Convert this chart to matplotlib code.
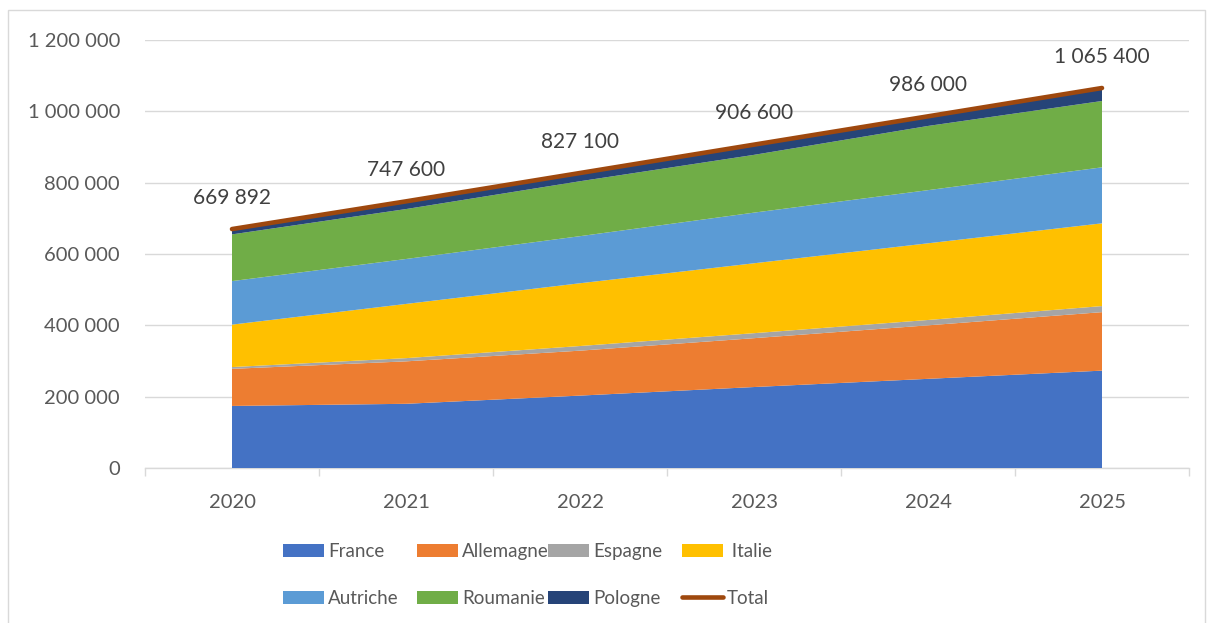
import matplotlib
matplotlib.use("Agg")
import matplotlib.pyplot as plt
from matplotlib.patches import Patch, Rectangle
from matplotlib.lines import Line2D

plt.rcParams['font.family'] = ['Lato', 'DejaVu Sans']

years = ["2020", "2021", "2022", "2023", "2024", "2025"]
france = [174000, 180000, 203000, 227000, 250000, 273000]
allemagne = [104000, 119000, 126000, 137000, 150000, 164000]
espagne = [5000, 9000, 13000, 14000, 15000, 17000]
italie = [119000, 152000, 176000, 196000, 215000, 232000]
autriche = [122000, 126000, 132000, 142000, 149000, 157000]
roumanie = [131000, 140000, 154000, 162000, 180000, 186000]
pologne = [14892, 21600, 23100, 28600, 27000, 36400]
total = [669892, 747600, 827100, 906600, 986000, 1065400]

names = ["France", "Allemagne", "Espagne", "Italie", "Autriche", "Roumanie", "Pologne"]
colors = ["#4472C4", "#ED7D31", "#A5A5A5", "#FFC000", "#5B9BD5", "#70AD47", "#264478"]
total_color = "#9E480E"
yticks = [0, 200000, 400000, 600000, 800000, 1000000, 1200000]

W, H = 1208, 623
fig = plt.figure(figsize=(W / 100, H / 100), dpi=100)
ax = fig.add_axes([145 / W, 1 - 468 / H, (1189 - 145) / W, 428 / H])

x = list(range(len(years)))
series = [france, allemagne, espagne, italie, autriche, roumanie, pologne]
ax.stackplot(x, *series, colors=colors, linewidth=0, zorder=2)
ax.plot(x, total, color=total_color, lw=3.3, solid_capstyle='round', zorder=3)

def fmt(v):
    return f"{v:,}".replace(",", " ")

for xi, v in zip(x, total):
    ax.annotate(fmt(v), (xi, v), xytext=(0, 22.5), textcoords='offset points',
                ha='center', va='center', fontsize=15, color='#404040')

ax.set_xlim(-0.5, len(years) - 0.5)
ax.set_ylim(0, 1200000)
ax.set_yticks(yticks)
ax.set_yticklabels([fmt(v) for v in yticks])
ax.set_xticks(x)
ax.set_xticklabels(years)
ax.set_xticks([i - 0.5 for i in range(len(years) + 1)], minor=True)
ax.tick_params(axis='x', which='major', length=0, pad=18.5, labelsize=14.5, labelcolor='#595959')
ax.tick_params(axis='x', which='minor', length=6, width=1, color='#D9D9D9')
ax.tick_params(axis='y', length=0, pad=18, labelsize=14.5, labelcolor='#595959')
ax.grid(axis='y', color='#D9D9D9', lw=1, zorder=0)
ax.set_axisbelow(True)
for s in ['top', 'right', 'left']:
    ax.spines[s].set_visible(False)
ax.spines['bottom'].set_color('#D9D9D9')
ax.spines['bottom'].set_linewidth(1)
ax.spines['bottom'].set_zorder(1)

# legend: 4 columns, 2 rows (row-wise order as in reference)
handles = [Patch(facecolor=c, edgecolor='none') for c in colors]
handles.append(Line2D([0], [0], color=total_color, lw=3.3, solid_capstyle='round'))
labels = ["France", "Allemagne", "Espagne", " Italie", "Autriche", "Roumanie", "Pologne", "Total"]
col_x = [283, 417, 548, 682]
for c in range(4):
    leg = fig.legend([handles[c], handles[c + 4]], [labels[c], labels[c + 4]],
                     loc='upper left', bbox_to_anchor=(col_x[c] / W, 1 - 543 / H),
                     frameon=False, fontsize=13.5, borderpad=0, borderaxespad=0,
                     handlelength=2.2, handleheight=0.72, handletextpad=0.2,
                     labelspacing=1.6, labelcolor='#595959')

fig.patches.append(Rectangle((8 / W, -0.01), (1205 - 8) / W, 1.01 - 10 / H,
                             transform=fig.transFigure, fill=False,
                             edgecolor='#D9D9D9', lw=1))

fig.savefig("out.png", dpi=100)
